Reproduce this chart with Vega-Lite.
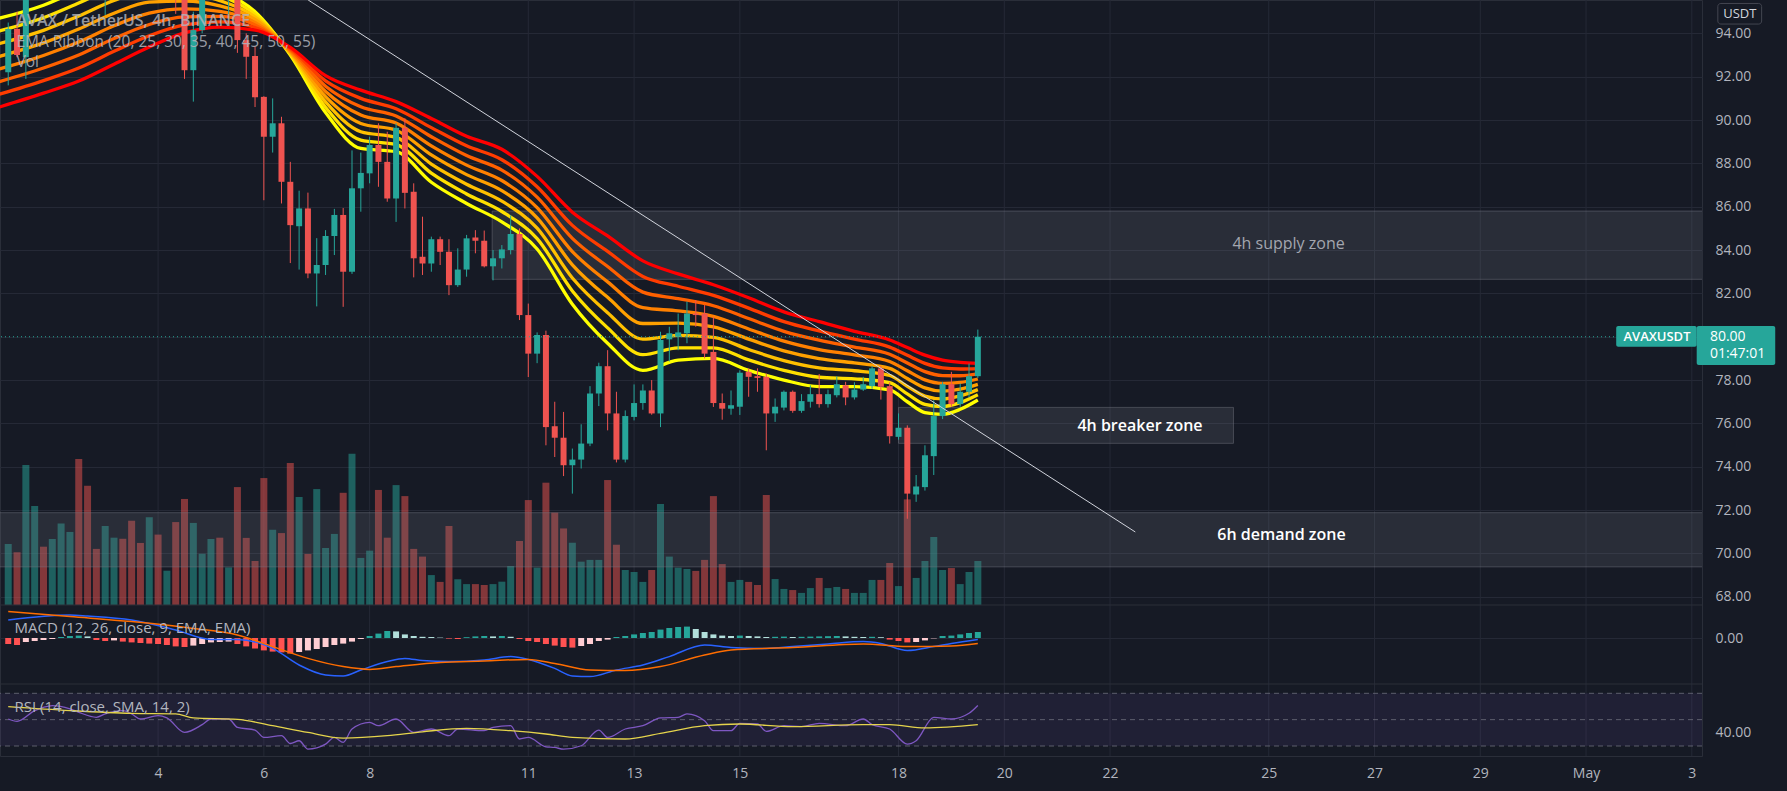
{
"$schema": "https://vega.github.io/schema/vega-lite/v6.json",
"width": 1702,
"height": 756,
"autosize": {"type": "none"},
"padding": {"left": 0, "top": 0, "right": 85, "bottom": 35},
"background": "#161a25",
"config": {"view": {"stroke": "#2a2e39", "strokeWidth": 1}, "font": "Open Sans"},
"resolve": {"scale": {"y": "independent", "color": "independent"}, "axis": {"x": "independent"}},
"datasets": {
"days": [
{"d":"2022-04-04T00:00Z"},{"d":"2022-04-06T00:00Z"},{"d":"2022-04-08T00:00Z"},{"d":"2022-04-11T00:00Z"},
{"d":"2022-04-13T00:00Z"},{"d":"2022-04-15T00:00Z"},{"d":"2022-04-18T00:00Z"},{"d":"2022-04-20T00:00Z"},
{"d":"2022-04-22T00:00Z"},{"d":"2022-04-25T00:00Z"},{"d":"2022-04-27T00:00Z"},{"d":"2022-04-29T00:00Z"},
{"d":"2022-05-01T00:00Z"},{"d":"2022-05-03T00:00Z"}
],
"candles": [
{"t":"2022-04-01T04:00Z","o":92.2,"h":94.5,"l":91.6,"c":94.2,"v":27.7,"m":-0.30},
{"t":"2022-04-01T08:00Z","o":94.2,"h":95.0,"l":92.9,"c":93.0,"v":24,"m":-0.35},
{"t":"2022-04-01T12:00Z","o":92.9,"h":96.8,"l":91.9,"c":96.2,"v":63.6,"m":-0.20},
{"t":"2022-04-01T16:00Z","o":96.2,"h":97.9,"l":95.9,"c":97.4,"v":45,"m":-0.15},
{"t":"2022-04-01T20:00Z","o":97.4,"h":97.8,"l":96.3,"c":96.8,"v":26.5,"m":-0.10},
{"t":"2022-04-02T00:00Z","o":96.8,"h":98.1,"l":96.5,"c":97.6,"v":30,"m":-0.05},
{"t":"2022-04-02T04:00Z","o":97.6,"h":98.8,"l":97.3,"c":98.4,"v":37.1,"m":0.05},
{"t":"2022-04-02T08:00Z","o":98.4,"h":99.3,"l":98.0,"c":98.9,"v":33.2,"m":0.10},
{"t":"2022-04-02T12:00Z","o":98.9,"h":99.4,"l":96.8,"c":97.2,"v":66.4,"m":0.12},
{"t":"2022-04-02T16:00Z","o":97.2,"h":97.6,"l":95.8,"c":96.1,"v":54.2,"m":0.08},
{"t":"2022-04-02T20:00Z","o":96.1,"h":96.6,"l":95.6,"c":95.9,"v":25.5,"m":-0.10},
{"t":"2022-04-03T00:00Z","o":95.9,"h":97.3,"l":94.85,"c":96.9,"v":35.9,"m":-0.15},
{"t":"2022-04-03T04:00Z","o":96.9,"h":98.1,"l":96.5,"c":97.7,"v":30.6,"m":-0.12},
{"t":"2022-04-03T08:00Z","o":97.7,"h":98.0,"l":96.7,"c":97.1,"v":30.1,"m":-0.18},
{"t":"2022-04-03T12:00Z","o":97.1,"h":97.5,"l":95.9,"c":96.3,"v":38.3,"m":-0.22},
{"t":"2022-04-03T16:00Z","o":96.3,"h":96.7,"l":95.7,"c":96.0,"v":28.2,"m":-0.25},
{"t":"2022-04-03T20:00Z","o":96.0,"h":97.4,"l":95.8,"c":97.0,"v":39.9,"m":-0.28},
{"t":"2022-04-04T00:00Z","o":97.0,"h":97.3,"l":96.2,"c":96.6,"v":32,"m":-0.30},
{"t":"2022-04-04T04:00Z","o":96.6,"h":97.2,"l":96.3,"c":96.9,"v":15.6,"m":-0.35},
{"t":"2022-04-04T08:00Z","o":96.9,"h":97.2,"l":94.9,"c":96.1,"v":37.7,"m":-0.42},
{"t":"2022-04-04T12:00Z","o":96.1,"h":96.4,"l":91.9,"c":92.3,"v":48.2,"m":-0.45},
{"t":"2022-04-04T16:00Z","o":92.3,"h":95.0,"l":90.85,"c":94.15,"v":37.3,"m":-0.38},
{"t":"2022-04-04T20:00Z","o":94.15,"h":96.9,"l":94.0,"c":96.3,"v":23.3,"m":-0.30},
{"t":"2022-04-05T00:00Z","o":96.3,"h":97.4,"l":95.9,"c":96.9,"v":30,"m":-0.22},
{"t":"2022-04-05T04:00Z","o":96.9,"h":97.2,"l":95.9,"c":96.3,"v":30.6,"m":-0.20},
{"t":"2022-04-05T08:00Z","o":96.3,"h":97.1,"l":94.9,"c":96.8,"v":17.1,"m":-0.18},
{"t":"2022-04-05T12:00Z","o":96.8,"h":97.0,"l":93.1,"c":93.69,"v":53.6,"m":-0.30},
{"t":"2022-04-05T16:00Z","o":93.69,"h":94.0,"l":91.9,"c":92.92,"v":30.5,"m":-0.42},
{"t":"2022-04-05T20:00Z","o":92.95,"h":93.4,"l":90.6,"c":91.05,"v":20,"m":-0.52},
{"t":"2022-04-06T00:00Z","o":91.07,"h":91.1,"l":86.3,"c":89.23,"v":57.7,"m":-0.62},
{"t":"2022-04-06T04:00Z","o":89.23,"h":91.0,"l":88.5,"c":89.85,"v":34.2,"m":-0.68},
{"t":"2022-04-06T08:00Z","o":89.85,"h":90.15,"l":86.15,"c":87.15,"v":32.7,"m":-0.72},
{"t":"2022-04-06T12:00Z","o":87.15,"h":88.07,"l":83.4,"c":85.15,"v":64.5,"m":-0.78},
{"t":"2022-04-06T16:00Z","o":85.1,"h":86.74,"l":83.1,"c":85.92,"v":49.1,"m":-0.70},
{"t":"2022-04-06T20:00Z","o":85.92,"h":86.65,"l":82.7,"c":82.92,"v":23.2,"m":-0.62},
{"t":"2022-04-07T00:00Z","o":82.92,"h":84.55,"l":81.4,"c":83.31,"v":52.7,"m":-0.55},
{"t":"2022-04-07T04:00Z","o":83.31,"h":84.92,"l":82.85,"c":84.65,"v":25.9,"m":-0.45},
{"t":"2022-04-07T08:00Z","o":84.65,"h":85.9,"l":83.77,"c":85.62,"v":32.3,"m":-0.35},
{"t":"2022-04-07T12:00Z","o":85.62,"h":85.94,"l":81.38,"c":83.0,"v":51,"m":-0.28},
{"t":"2022-04-07T16:00Z","o":83.0,"h":88.6,"l":82.9,"c":86.85,"v":68.8,"m":-0.18},
{"t":"2022-04-07T20:00Z","o":86.85,"h":88.5,"l":85.77,"c":87.56,"v":21.4,"m":-0.05},
{"t":"2022-04-08T00:00Z","o":87.54,"h":89.23,"l":87.08,"c":88.85,"v":24.7,"m":0.10},
{"t":"2022-04-08T04:00Z","o":88.85,"h":89.85,"l":86.92,"c":88.07,"v":52.3,"m":0.22},
{"t":"2022-04-08T08:00Z","o":88.07,"h":89.46,"l":86.23,"c":86.38,"v":30.6,"m":0.35},
{"t":"2022-04-08T12:00Z","o":86.38,"h":89.85,"l":85.3,"c":89.64,"v":54.5,"m":0.33},
{"t":"2022-04-08T16:00Z","o":89.64,"h":90.08,"l":85.92,"c":86.64,"v":49.5,"m":0.18},
{"t":"2022-04-08T20:00Z","o":86.69,"h":87.08,"l":82.74,"c":83.62,"v":25.5,"m":0.10},
{"t":"2022-04-09T00:00Z","o":83.69,"h":85.54,"l":82.85,"c":83.38,"v":22,"m":0.06},
{"t":"2022-04-09T04:00Z","o":83.38,"h":84.62,"l":83.0,"c":84.5,"v":13.6,"m":0.05},
{"t":"2022-04-09T08:00Z","o":84.5,"h":84.62,"l":83.31,"c":83.92,"v":10.5,"m":0.02},
{"t":"2022-04-09T12:00Z","o":83.92,"h":84.5,"l":81.92,"c":82.38,"v":35.9,"m":-0.03},
{"t":"2022-04-09T16:00Z","o":82.38,"h":84.08,"l":82.3,"c":83.1,"v":11.7,"m":-0.05},
{"t":"2022-04-09T20:00Z","o":83.1,"h":84.7,"l":82.77,"c":84.54,"v":9.5,"m":0.04},
{"t":"2022-04-10T00:00Z","o":84.58,"h":84.92,"l":83.85,"c":84.43,"v":9.5,"m":0.08},
{"t":"2022-04-10T04:00Z","o":84.43,"h":84.9,"l":83.2,"c":83.25,"v":9.1,"m":0.10},
{"t":"2022-04-10T08:00Z","o":83.25,"h":84.0,"l":82.6,"c":83.62,"v":9.5,"m":0.08},
{"t":"2022-04-10T12:00Z","o":83.62,"h":84.23,"l":83.15,"c":84.03,"v":10.6,"m":0.10},
{"t":"2022-04-10T16:00Z","o":84.0,"h":85.6,"l":83.8,"c":84.74,"v":17.7,"m":0.06},
{"t":"2022-04-10T20:00Z","o":84.74,"h":85.0,"l":80.77,"c":81.0,"v":29.1,"m":-0.05},
{"t":"2022-04-11T00:00Z","o":81.0,"h":81.53,"l":78.14,"c":79.22,"v":47.7,"m":-0.15},
{"t":"2022-04-11T04:00Z","o":79.22,"h":80.2,"l":78.78,"c":80.08,"v":17,"m":-0.20},
{"t":"2022-04-11T08:00Z","o":80.08,"h":80.28,"l":74.99,"c":75.83,"v":55.6,"m":-0.30},
{"t":"2022-04-11T12:00Z","o":75.87,"h":77.0,"l":74.45,"c":75.34,"v":42,"m":-0.38},
{"t":"2022-04-11T16:00Z","o":75.34,"h":76.53,"l":73.57,"c":74.07,"v":34.8,"m":-0.45},
{"t":"2022-04-11T20:00Z","o":74.07,"h":74.84,"l":72.76,"c":74.33,"v":28.3,"m":-0.48},
{"t":"2022-04-12T00:00Z","o":74.33,"h":75.96,"l":73.92,"c":75.07,"v":19.7,"m":-0.40},
{"t":"2022-04-12T04:00Z","o":75.07,"h":77.72,"l":74.95,"c":77.38,"v":20.5,"m":-0.30},
{"t":"2022-04-12T08:00Z","o":77.38,"h":78.8,"l":76.8,"c":78.64,"v":20.5,"m":-0.15},
{"t":"2022-04-12T12:00Z","o":78.64,"h":79.38,"l":75.68,"c":76.46,"v":56.8,"m":-0.08},
{"t":"2022-04-12T16:00Z","o":76.46,"h":77.46,"l":74.2,"c":74.33,"v":27.4,"m":0.05},
{"t":"2022-04-12T20:00Z","o":74.33,"h":76.6,"l":74.2,"c":76.34,"v":15.9,"m":0.10},
{"t":"2022-04-13T00:00Z","o":76.3,"h":77.8,"l":76.14,"c":76.94,"v":15,"m":0.18},
{"t":"2022-04-13T04:00Z","o":76.94,"h":77.8,"l":76.63,"c":77.52,"v":10.5,"m":0.25},
{"t":"2022-04-13T08:00Z","o":77.52,"h":78.0,"l":76.4,"c":76.46,"v":15.9,"m":0.30},
{"t":"2022-04-13T12:00Z","o":76.46,"h":80.23,"l":75.83,"c":79.85,"v":45.9,"m":0.42},
{"t":"2022-04-13T16:00Z","o":79.88,"h":80.46,"l":78.86,"c":80.16,"v":22,"m":0.50},
{"t":"2022-04-13T20:00Z","o":80.0,"h":81.07,"l":79.38,"c":80.2,"v":17,"m":0.55},
{"t":"2022-04-14T00:00Z","o":80.16,"h":81.62,"l":79.7,"c":81.07,"v":16.4,"m":0.57},
{"t":"2022-04-14T04:00Z","o":81.07,"h":81.69,"l":80.46,"c":81.0,"v":15.5,"m":0.45},
{"t":"2022-04-14T08:00Z","o":81.07,"h":81.46,"l":79.0,"c":79.22,"v":20.5,"m":0.30},
{"t":"2022-04-14T12:00Z","o":79.3,"h":80.92,"l":76.76,"c":76.94,"v":49.5,"m":0.18},
{"t":"2022-04-14T16:00Z","o":76.94,"h":77.38,"l":76.17,"c":76.68,"v":18.6,"m":0.12},
{"t":"2022-04-14T20:00Z","o":76.68,"h":77.52,"l":76.4,"c":76.84,"v":10.5,"m":0.10},
{"t":"2022-04-15T00:00Z","o":76.77,"h":78.45,"l":76.39,"c":78.34,"v":11.4,"m":0.12},
{"t":"2022-04-15T04:00Z","o":78.38,"h":78.54,"l":77.23,"c":78.15,"v":10.5,"m":0.10},
{"t":"2022-04-15T08:00Z","o":78.18,"h":78.54,"l":77.46,"c":78.1,"v":9.1,"m":0.08},
{"t":"2022-04-15T12:00Z","o":78.15,"h":78.3,"l":74.76,"c":76.46,"v":50,"m":0.05},
{"t":"2022-04-15T16:00Z","o":76.46,"h":77.15,"l":76.07,"c":76.77,"v":11.8,"m":0.06},
{"t":"2022-04-15T20:00Z","o":76.73,"h":77.52,"l":76.6,"c":77.46,"v":7.3,"m":0.07},
{"t":"2022-04-16T00:00Z","o":77.46,"h":77.52,"l":76.49,"c":76.58,"v":6.8,"m":0.05},
{"t":"2022-04-16T04:00Z","o":76.58,"h":77.35,"l":76.49,"c":77.03,"v":5.5,"m":0.06},
{"t":"2022-04-16T08:00Z","o":77.0,"h":77.76,"l":76.73,"c":77.35,"v":7.7,"m":0.07},
{"t":"2022-04-16T12:00Z","o":77.35,"h":78.28,"l":76.73,"c":76.89,"v":12.3,"m":0.08},
{"t":"2022-04-16T16:00Z","o":76.89,"h":77.56,"l":76.73,"c":77.35,"v":7.7,"m":0.09},
{"t":"2022-04-16T20:00Z","o":77.3,"h":78.18,"l":77.2,"c":77.81,"v":8.2,"m":0.10},
{"t":"2022-04-17T00:00Z","o":77.76,"h":77.92,"l":76.84,"c":77.2,"v":7.3,"m":0.08},
{"t":"2022-04-17T04:00Z","o":77.2,"h":77.9,"l":77.1,"c":77.56,"v":5.5,"m":0.06},
{"t":"2022-04-17T08:00Z","o":77.56,"h":78.15,"l":77.5,"c":77.81,"v":5.5,"m":0.05},
{"t":"2022-04-17T12:00Z","o":77.72,"h":78.65,"l":77.6,"c":78.54,"v":11.4,"m":0.06},
{"t":"2022-04-17T16:00Z","o":78.54,"h":78.65,"l":77.1,"c":77.69,"v":11.4,"m":0.04},
{"t":"2022-04-17T20:00Z","o":77.72,"h":77.9,"l":75.07,"c":75.41,"v":19.1,"m":-0.08},
{"t":"2022-04-18T00:00Z","o":75.38,"h":76.46,"l":75.25,"c":75.8,"v":8.6,"m":-0.15},
{"t":"2022-04-18T04:00Z","o":75.8,"h":75.91,"l":71.6,"c":72.76,"v":48,"m":-0.22},
{"t":"2022-04-18T08:00Z","o":72.72,"h":73.62,"l":72.38,"c":73.09,"v":12.3,"m":-0.20},
{"t":"2022-04-18T12:00Z","o":73.06,"h":74.99,"l":72.9,"c":74.53,"v":20,"m":-0.12},
{"t":"2022-04-18T16:00Z","o":74.49,"h":77.07,"l":73.62,"c":76.34,"v":30.9,"m":-0.02},
{"t":"2022-04-18T20:00Z","o":76.34,"h":77.92,"l":76.2,"c":77.81,"v":15.9,"m":0.10},
{"t":"2022-04-19T00:00Z","o":77.81,"h":78.38,"l":76.77,"c":76.89,"v":16.8,"m":0.12},
{"t":"2022-04-19T04:00Z","o":76.89,"h":77.84,"l":76.77,"c":77.46,"v":9.5,"m":0.18},
{"t":"2022-04-19T08:00Z","o":77.46,"h":78.76,"l":77.2,"c":78.18,"v":15,"m":0.25},
{"t":"2022-04-19T12:00Z","o":78.18,"h":80.33,"l":78.1,"c":80.0,"v":20,"m":0.30}
],
"ribbon": [
{"t":"2022-04-01T00:00Z","e20":94.7,"e25":94.11,"e30":93.53,"e35":92.94,"e40":92.36,"e45":91.77,"e50":91.19,"e55":90.6},
{"t":"2022-04-01T20:00Z","e20":95.3,"e25":94.72,"e30":94.14,"e35":93.56,"e40":92.98,"e45":92.4,"e50":91.82,"e55":91.24},
{"t":"2022-04-02T12:00Z","e20":96.0,"e25":95.4,"e30":94.8,"e35":94.2,"e40":93.6,"e45":93.0,"e50":92.4,"e55":91.8},
{"t":"2022-04-03T04:00Z","e20":96.7,"e25":96.11,"e30":95.52,"e35":94.93,"e40":94.35,"e45":93.76,"e50":93.17,"e55":92.58},
{"t":"2022-04-03T20:00Z","e20":97.0,"e25":96.48,"e30":95.96,"e35":95.44,"e40":94.93,"e45":94.41,"e50":93.89,"e55":93.37},
{"t":"2022-04-04T12:00Z","e20":96.6,"e25":96.23,"e30":95.86,"e35":95.49,"e40":95.13,"e45":94.76,"e50":94.39,"e55":94.02},
{"t":"2022-04-05T04:00Z","e20":96.0,"e25":95.76,"e30":95.51,"e35":95.27,"e40":95.02,"e45":94.78,"e50":94.53,"e55":94.29},
{"t":"2022-04-05T20:00Z","e20":95.0,"e25":94.88,"e30":94.76,"e35":94.64,"e40":94.51,"e45":94.39,"e50":94.27,"e55":94.15},
{"t":"2022-04-06T12:00Z","e20":93.0,"e25":93.05,"e30":93.1,"e35":93.15,"e40":93.2,"e45":93.25,"e50":93.3,"e55":93.35},
{"t":"2022-04-07T04:00Z","e20":90.35,"e25":90.59,"e30":90.84,"e35":91.08,"e40":91.32,"e45":91.56,"e50":91.81,"e55":92.05},
{"t":"2022-04-07T20:00Z","e20":88.69,"e25":89.07,"e30":89.46,"e35":89.84,"e40":90.23,"e45":90.61,"e50":91.0,"e55":91.38},
{"t":"2022-04-08T12:00Z","e20":88.54,"e25":88.87,"e30":89.2,"e35":89.53,"e40":89.86,"e45":90.19,"e50":90.52,"e55":90.85},
{"t":"2022-04-09T04:00Z","e20":87.13,"e25":87.55,"e30":87.97,"e35":88.39,"e40":88.81,"e45":89.23,"e50":89.65,"e55":90.07},
{"t":"2022-04-09T20:00Z","e20":86.15,"e25":86.59,"e30":87.04,"e35":87.48,"e40":87.92,"e45":88.36,"e50":88.81,"e55":89.25},
{"t":"2022-04-10T12:00Z","e20":85.3,"e25":85.78,"e30":86.26,"e35":86.74,"e40":87.21,"e45":87.69,"e50":88.17,"e55":88.65},
{"t":"2022-04-11T04:00Z","e20":84.05,"e25":84.53,"e30":85.01,"e35":85.49,"e40":85.96,"e45":86.44,"e50":86.92,"e55":87.4},
{"t":"2022-04-11T20:00Z","e20":81.5,"e25":82.11,"e30":82.71,"e35":83.32,"e40":83.93,"e45":84.54,"e50":85.14,"e55":85.75},
{"t":"2022-04-12T12:00Z","e20":79.7,"e25":80.41,"e30":81.11,"e35":81.82,"e40":82.53,"e45":83.24,"e50":83.94,"e55":84.65},
{"t":"2022-04-13T04:00Z","e20":78.45,"e25":79.17,"e30":79.89,"e35":80.61,"e40":81.34,"e45":82.06,"e50":82.78,"e55":83.5},
{"t":"2022-04-13T20:00Z","e20":78.92,"e25":79.49,"e30":80.06,"e35":80.63,"e40":81.19,"e45":81.76,"e50":82.33,"e55":82.9},
{"t":"2022-04-14T12:00Z","e20":79.0,"e25":79.49,"e30":79.97,"e35":80.46,"e40":80.94,"e45":81.43,"e50":81.91,"e55":82.4},
{"t":"2022-04-15T04:00Z","e20":78.45,"e25":78.93,"e30":79.41,"e35":79.89,"e40":80.36,"e45":80.84,"e50":81.32,"e55":81.8},
{"t":"2022-04-15T20:00Z","e20":78.0,"e25":78.45,"e30":78.9,"e35":79.35,"e40":79.8,"e45":80.25,"e50":80.7,"e55":81.15},
{"t":"2022-04-16T12:00Z","e20":77.7,"e25":78.13,"e30":78.56,"e35":78.99,"e40":79.41,"e45":79.84,"e50":80.27,"e55":80.7},
{"t":"2022-04-17T04:00Z","e20":77.7,"e25":78.06,"e30":78.43,"e35":78.79,"e40":79.16,"e45":79.52,"e50":79.89,"e55":80.25},
{"t":"2022-04-17T20:00Z","e20":77.55,"e25":77.88,"e30":78.21,"e35":78.54,"e40":78.86,"e45":79.19,"e50":79.52,"e55":79.85},
{"t":"2022-04-18T04:00Z","e20":77.0,"e25":77.36,"e30":77.71,"e35":78.07,"e40":78.43,"e45":78.79,"e50":79.14,"e55":79.5},
{"t":"2022-04-18T12:00Z","e20":76.5,"e25":76.88,"e30":77.26,"e35":77.64,"e40":78.01,"e45":78.39,"e50":78.77,"e55":79.15},
{"t":"2022-04-18T20:00Z","e20":76.42,"e25":76.78,"e30":77.13,"e35":77.49,"e40":77.85,"e45":78.21,"e50":78.56,"e55":78.92},
{"t":"2022-04-19T04:00Z","e20":76.65,"e25":76.96,"e30":77.27,"e35":77.58,"e40":77.89,"e45":78.2,"e50":78.51,"e55":78.82},
{"t":"2022-04-19T12:00Z","e20":77.08,"e25":77.32,"e30":77.56,"e35":77.8,"e40":78.05,"e45":78.29,"e50":78.53,"e55":78.77}
],
"macdLines": [
{"t":"2022-04-01T04:00Z","s":"macd","v":0.9},
{"t":"2022-04-02T08:00Z","s":"macd","v":1.15},
{"t":"2022-04-02T16:00Z","s":"macd","v":1.1},
{"t":"2022-04-03T12:00Z","s":"macd","v":0.9},
{"t":"2022-04-04T08:00Z","s":"macd","v":0.4},
{"t":"2022-04-05T00:00Z","s":"macd","v":-0.07},
{"t":"2022-04-05T12:00Z","s":"macd","v":-0.07},
{"t":"2022-04-06T04:00Z","s":"macd","v":-0.52},
{"t":"2022-04-06T16:00Z","s":"macd","v":-1.35},
{"t":"2022-04-07T04:00Z","s":"macd","v":-1.85},
{"t":"2022-04-07T12:00Z","s":"macd","v":-1.9},
{"t":"2022-04-07T20:00Z","s":"macd","v":-1.6},
{"t":"2022-04-08T08:00Z","s":"macd","v":-1.18},
{"t":"2022-04-08T16:00Z","s":"macd","v":-1.02},
{"t":"2022-04-09T00:00Z","s":"macd","v":-1.13},
{"t":"2022-04-09T12:00Z","s":"macd","v":-1.18},
{"t":"2022-04-10T04:00Z","s":"macd","v":-1.1},
{"t":"2022-04-10T16:00Z","s":"macd","v":-0.93},
{"t":"2022-04-11T00:00Z","s":"macd","v":-1.07},
{"t":"2022-04-11T12:00Z","s":"macd","v":-1.52},
{"t":"2022-04-11T20:00Z","s":"macd","v":-1.9},
{"t":"2022-04-12T04:00Z","s":"macd","v":-1.93},
{"t":"2022-04-12T16:00Z","s":"macd","v":-1.6},
{"t":"2022-04-13T04:00Z","s":"macd","v":-1.35},
{"t":"2022-04-13T16:00Z","s":"macd","v":-0.93},
{"t":"2022-04-14T08:00Z","s":"macd","v":-0.35},
{"t":"2022-04-14T20:00Z","s":"macd","v":-0.47},
{"t":"2022-04-15T12:00Z","s":"macd","v":-0.52},
{"t":"2022-04-16T00:00Z","s":"macd","v":-0.43},
{"t":"2022-04-16T16:00Z","s":"macd","v":-0.3},
{"t":"2022-04-17T08:00Z","s":"macd","v":-0.18},
{"t":"2022-04-17T16:00Z","s":"macd","v":-0.27},
{"t":"2022-04-18T04:00Z","s":"macd","v":-0.63},
{"t":"2022-04-18T16:00Z","s":"macd","v":-0.43},
{"t":"2022-04-19T00:00Z","s":"macd","v":-0.27},
{"t":"2022-04-19T12:00Z","s":"macd","v":-0.07},
{"t":"2022-04-01T04:00Z","s":"signal","v":1.32},
{"t":"2022-04-02T08:00Z","s":"signal","v":1.07},
{"t":"2022-04-03T12:00Z","s":"signal","v":0.82},
{"t":"2022-04-04T16:00Z","s":"signal","v":0.48},
{"t":"2022-04-05T12:00Z","s":"signal","v":0.15},
{"t":"2022-04-06T04:00Z","s":"signal","v":-0.43},
{"t":"2022-04-06T20:00Z","s":"signal","v":-1.02},
{"t":"2022-04-07T12:00Z","s":"signal","v":-1.43},
{"t":"2022-04-08T00:00Z","s":"signal","v":-1.57},
{"t":"2022-04-08T12:00Z","s":"signal","v":-1.43},
{"t":"2022-04-09T08:00Z","s":"signal","v":-1.22},
{"t":"2022-04-10T04:00Z","s":"signal","v":-1.15},
{"t":"2022-04-11T00:00Z","s":"signal","v":-1.07},
{"t":"2022-04-11T12:00Z","s":"signal","v":-1.27},
{"t":"2022-04-12T04:00Z","s":"signal","v":-1.6},
{"t":"2022-04-12T20:00Z","s":"signal","v":-1.63},
{"t":"2022-04-13T12:00Z","s":"signal","v":-1.43},
{"t":"2022-04-14T08:00Z","s":"signal","v":-0.85},
{"t":"2022-04-14T20:00Z","s":"signal","v":-0.6},
{"t":"2022-04-16T00:00Z","s":"signal","v":-0.48},
{"t":"2022-04-17T08:00Z","s":"signal","v":-0.3},
{"t":"2022-04-18T04:00Z","s":"signal","v":-0.43},
{"t":"2022-04-19T00:00Z","s":"signal","v":-0.4},
{"t":"2022-04-19T12:00Z","s":"signal","v":-0.27}
],
"rsi": [
{"t":"2022-04-01T04:00Z","s":"rsi","v":50.5},
{"t":"2022-04-01T08:00Z","s":"rsi","v":48.7},
{"t":"2022-04-01T16:00Z","s":"rsi","v":56.9},
{"t":"2022-04-01T20:00Z","s":"rsi","v":59.4},
{"t":"2022-04-02T00:00Z","s":"rsi","v":60.7},
{"t":"2022-04-02T08:00Z","s":"rsi","v":58.2},
{"t":"2022-04-02T12:00Z","s":"rsi","v":55.6},
{"t":"2022-04-02T20:00Z","s":"rsi","v":51.8},
{"t":"2022-04-03T00:00Z","s":"rsi","v":54.4},
{"t":"2022-04-03T08:00Z","s":"rsi","v":56.9},
{"t":"2022-04-03T12:00Z","s":"rsi","v":54.4},
{"t":"2022-04-03T16:00Z","s":"rsi","v":50.5},
{"t":"2022-04-04T00:00Z","s":"rsi","v":53},
{"t":"2022-04-04T04:00Z","s":"rsi","v":51.3},
{"t":"2022-04-04T12:00Z","s":"rsi","v":40.3},
{"t":"2022-04-04T20:00Z","s":"rsi","v":46.2},
{"t":"2022-04-05T00:00Z","s":"rsi","v":50.5},
{"t":"2022-04-05T08:00Z","s":"rsi","v":50.5},
{"t":"2022-04-05T12:00Z","s":"rsi","v":44.1},
{"t":"2022-04-05T20:00Z","s":"rsi","v":42.1},
{"t":"2022-04-06T00:00Z","s":"rsi","v":36.5},
{"t":"2022-04-06T08:00Z","s":"rsi","v":37.8},
{"t":"2022-04-06T12:00Z","s":"rsi","v":31.9},
{"t":"2022-04-06T16:00Z","s":"rsi","v":34},
{"t":"2022-04-06T20:00Z","s":"rsi","v":27.6},
{"t":"2022-04-07T04:00Z","s":"rsi","v":31.4},
{"t":"2022-04-07T08:00Z","s":"rsi","v":36.5},
{"t":"2022-04-07T12:00Z","s":"rsi","v":32.7},
{"t":"2022-04-07T16:00Z","s":"rsi","v":42.9},
{"t":"2022-04-08T00:00Z","s":"rsi","v":47.9},
{"t":"2022-04-08T04:00Z","s":"rsi","v":45.4},
{"t":"2022-04-08T12:00Z","s":"rsi","v":50.5},
{"t":"2022-04-08T20:00Z","s":"rsi","v":40.3},
{"t":"2022-04-09T04:00Z","s":"rsi","v":42.9},
{"t":"2022-04-09T12:00Z","s":"rsi","v":37.8},
{"t":"2022-04-09T16:00Z","s":"rsi","v":42.9},
{"t":"2022-04-10T04:00Z","s":"rsi","v":41.6},
{"t":"2022-04-10T08:00Z","s":"rsi","v":44.1},
{"t":"2022-04-10T16:00Z","s":"rsi","v":45.4},
{"t":"2022-04-10T20:00Z","s":"rsi","v":35.3},
{"t":"2022-04-11T00:00Z","s":"rsi","v":36.5},
{"t":"2022-04-11T08:00Z","s":"rsi","v":29.4},
{"t":"2022-04-11T12:00Z","s":"rsi","v":28.9},
{"t":"2022-04-11T16:00Z","s":"rsi","v":27.6},
{"t":"2022-04-12T00:00Z","s":"rsi","v":30.2},
{"t":"2022-04-12T08:00Z","s":"rsi","v":42.1},
{"t":"2022-04-12T12:00Z","s":"rsi","v":36.5},
{"t":"2022-04-12T20:00Z","s":"rsi","v":42.9},
{"t":"2022-04-13T04:00Z","s":"rsi","v":45.4},
{"t":"2022-04-13T12:00Z","s":"rsi","v":51.3},
{"t":"2022-04-13T20:00Z","s":"rsi","v":51.8},
{"t":"2022-04-14T00:00Z","s":"rsi","v":54.4},
{"t":"2022-04-14T08:00Z","s":"rsi","v":49.2},
{"t":"2022-04-14T12:00Z","s":"rsi","v":41.6},
{"t":"2022-04-14T20:00Z","s":"rsi","v":41.6},
{"t":"2022-04-15T00:00Z","s":"rsi","v":47.2},
{"t":"2022-04-15T08:00Z","s":"rsi","v":46.7},
{"t":"2022-04-15T12:00Z","s":"rsi","v":41.1},
{"t":"2022-04-15T20:00Z","s":"rsi","v":45.4},
{"t":"2022-04-16T04:00Z","s":"rsi","v":44.7},
{"t":"2022-04-16T12:00Z","s":"rsi","v":47.2},
{"t":"2022-04-17T00:00Z","s":"rsi","v":45.4},
{"t":"2022-04-17T08:00Z","s":"rsi","v":50.5},
{"t":"2022-04-17T12:00Z","s":"rsi","v":46.2},
{"t":"2022-04-17T20:00Z","s":"rsi","v":42.9},
{"t":"2022-04-18T04:00Z","s":"rsi","v":31.4},
{"t":"2022-04-18T08:00Z","s":"rsi","v":34},
{"t":"2022-04-18T16:00Z","s":"rsi","v":51.8},
{"t":"2022-04-19T00:00Z","s":"rsi","v":50.5},
{"t":"2022-04-19T08:00Z","s":"rsi","v":54.8},
{"t":"2022-04-19T12:00Z","s":"rsi","v":60.7},
{"t":"2022-04-01T04:00Z","s":"ma","v":59.9},
{"t":"2022-04-02T08:00Z","s":"ma","v":56.9},
{"t":"2022-04-03T12:00Z","s":"ma","v":54.8},
{"t":"2022-04-04T08:00Z","s":"ma","v":54.4},
{"t":"2022-04-04T16:00Z","s":"ma","v":51.3},
{"t":"2022-04-05T12:00Z","s":"ma","v":50.2},
{"t":"2022-04-06T04:00Z","s":"ma","v":45.4},
{"t":"2022-04-06T20:00Z","s":"ma","v":40.3},
{"t":"2022-04-07T12:00Z","s":"ma","v":36},
{"t":"2022-04-08T08:00Z","s":"ma","v":37.8},
{"t":"2022-04-09T00:00Z","s":"ma","v":40.8},
{"t":"2022-04-09T20:00Z","s":"ma","v":43.4},
{"t":"2022-04-10T16:00Z","s":"ma","v":41.6},
{"t":"2022-04-11T08:00Z","s":"ma","v":39.1},
{"t":"2022-04-11T20:00Z","s":"ma","v":36.5},
{"t":"2022-04-12T20:00Z","s":"ma","v":35.3},
{"t":"2022-04-13T12:00Z","s":"ma","v":39.6},
{"t":"2022-04-14T08:00Z","s":"ma","v":45.4},
{"t":"2022-04-15T00:00Z","s":"ma","v":46.7},
{"t":"2022-04-16T00:00Z","s":"ma","v":44.7},
{"t":"2022-04-17T08:00Z","s":"ma","v":46.2},
{"t":"2022-04-17T20:00Z","s":"ma","v":46.2},
{"t":"2022-04-18T12:00Z","s":"ma","v":43.7},
{"t":"2022-04-19T12:00Z","s":"ma","v":46.2}
],
"zones": [
{"kind":"supply","t":"2022-04-10T07:36Z","t2":"2022-05-05T00:00Z","p":85.8,"p2":82.65},
{"kind":"breaker","t":"2022-04-18T00:00Z","t2":"2022-04-24T08:00Z","p":76.74,"p2":75.08},
{"kind":"demand","t":"2022-03-31T00:00Z","t2":"2022-05-05T00:00Z","p":71.88,"p2":69.38}
],
"zoneLabels": [
{"kind":"supply","label":"4h supply zone","t":"2022-04-25T09:00Z","p":84.3},
{"kind":"breaker","label":"4h breaker zone","t":"2022-04-22T13:35Z","p":75.9},
{"kind":"demand","label":"6h demand zone","t":"2022-04-25T05:47Z","p":70.85}
],
"trend": [
{"t":"2022-04-06T20:07Z","p":95.54},
{"t":"2022-04-22T11:27Z","p":70.99}
],
"last": [
{"symbol":"AVAXUSDT","p":80.0,"timer":"01:47:01","currency":"USDT"}
],
"rsiLevels": [{"lv":70},{"lv":50},{"lv":30}]
},
"layer": [
{
"data": {"name": "days"},
"mark": {"type": "rule", "color": "#252936", "strokeWidth": 1},
"encoding": {
"x": {"field": "d", "type": "temporal", "scale": {"type": "utc", "nice": false, "domain": [{"year": 2022, "month": 4, "date": 1, "hours": 2, "minutes": 32, "utc": true}, {"year": 2022, "month": 5, "date": 3, "hours": 2, "minutes": 21, "utc": true}]},
"axis": {"orient": "bottom", "title": null, "values": [
{"year": 2022, "month": 4, "date": 4, "utc": true},
{"year": 2022, "month": 4, "date": 6, "utc": true},
{"year": 2022, "month": 4, "date": 8, "utc": true},
{"year": 2022, "month": 4, "date": 11, "utc": true},
{"year": 2022, "month": 4, "date": 13, "utc": true},
{"year": 2022, "month": 4, "date": 15, "utc": true},
{"year": 2022, "month": 4, "date": 18, "utc": true},
{"year": 2022, "month": 4, "date": 20, "utc": true},
{"year": 2022, "month": 4, "date": 22, "utc": true},
{"year": 2022, "month": 4, "date": 25, "utc": true},
{"year": 2022, "month": 4, "date": 27, "utc": true},
{"year": 2022, "month": 4, "date": 29, "utc": true},
{"year": 2022, "month": 5, "date": 1, "utc": true},
{"year": 2022, "month": 5, "date": 3, "utc": true}],
"labelExpr": "utcdate(datum.value) == 1 ? 'May' : utcFormat(datum.value, '%-d')",
"grid": false, "domain": false, "ticks": false, "labelPadding": 10, "labelFontSize": 14, "labelColor": "#b2b5be", "labelOverlap": false, "labelFlush": false}}
}
},
{
"data": {"name": "candles"},
"mark": {"type": "bar", "width": 7, "opacity": 0.5},
"encoding": {
"x": {"field": "t", "type": "temporal", "axis": null, "scale": {"type": "utc", "nice": false, "domain": [{"year": 2022, "month": 4, "date": 1, "hours": 2, "minutes": 32, "utc": true}, {"year": 2022, "month": 5, "date": 3, "hours": 2, "minutes": 21, "utc": true}]}},
"y": {"field": "v", "type": "quantitative", "axis": null, "scale": {"domain": [0, 100], "range": [605, 385], "zero": false, "nice": false}},
"y2": {"datum": 0},
"color": {"condition": {"test": "datum.c >= datum.o", "value": "#26a69a"}, "value": "#ef5350"}
}
},
{
"data": {"name": "zones"},
"mark": {"type": "rect", "fill": "#787b86", "fillOpacity": 0.2, "stroke": "#787b86", "strokeOpacity": 0.45, "strokeWidth": 1, "clip": true},
"encoding": {
"x": {"field": "t", "type": "temporal", "axis": null, "scale": {"type": "utc", "nice": false, "domain": [{"year": 2022, "month": 4, "date": 1, "hours": 2, "minutes": 32, "utc": true}, {"year": 2022, "month": 5, "date": 3, "hours": 2, "minutes": 21, "utc": true}]}},
"x2": {"field": "t2"},
"y": {"field": "p", "type": "quantitative", "axis": null, "scale": {"domain": [67.62, 95.54], "range": [605, 0], "zero": false, "nice": false}},
"y2": {"field": "p2"}
}
},
{
"data": {"name": "ribbon"},
"transform": [{"fold": ["e20", "e25", "e30", "e35", "e40", "e45", "e50", "e55"], "as": ["ema", "val"]}],
"mark": {"type": "line", "strokeWidth": 3.3, "interpolate": "monotone", "clip": true},
"encoding": {
"x": {"field": "t", "type": "temporal", "axis": null, "scale": {"type": "utc", "nice": false, "domain": [{"year": 2022, "month": 4, "date": 1, "hours": 2, "minutes": 32, "utc": true}, {"year": 2022, "month": 5, "date": 3, "hours": 2, "minutes": 21, "utc": true}]}},
"y": {"field": "val", "type": "quantitative", "axis": null, "scale": {"domain": [67.62, 95.54], "range": [605, 0], "zero": false, "nice": false}},
"color": {"field": "ema", "type": "nominal", "legend": null, "scale": {"domain": ["e20", "e25", "e30", "e35", "e40", "e45", "e50", "e55"], "range": ["#ffff00", "#ffe000", "#ffc000", "#ffa000", "#ff8000", "#ff6000", "#ff3c00", "#ff0000"]}}
}
},
{
"data": {"name": "candles"},
"mark": {"type": "rule", "strokeWidth": 1, "clip": true},
"encoding": {
"x": {"field": "t", "type": "temporal", "axis": null, "scale": {"type": "utc", "nice": false, "domain": [{"year": 2022, "month": 4, "date": 1, "hours": 2, "minutes": 32, "utc": true}, {"year": 2022, "month": 5, "date": 3, "hours": 2, "minutes": 21, "utc": true}]}},
"y": {"field": "l", "type": "quantitative", "axis": null, "scale": {"domain": [67.62, 95.54], "range": [605, 0], "zero": false, "nice": false}},
"y2": {"field": "h"},
"color": {"condition": {"test": "datum.c >= datum.o", "value": "#26a69a"}, "value": "#ef5350"}
}
},
{
"data": {"name": "candles"},
"mark": {"type": "bar", "width": 6, "clip": true},
"encoding": {
"x": {"field": "t", "type": "temporal", "axis": null, "scale": {"type": "utc", "nice": false, "domain": [{"year": 2022, "month": 4, "date": 1, "hours": 2, "minutes": 32, "utc": true}, {"year": 2022, "month": 5, "date": 3, "hours": 2, "minutes": 21, "utc": true}]}},
"y": {"field": "o", "type": "quantitative", "scale": {"domain": [67.62, 95.54], "range": [605, 0], "zero": false, "nice": false},
"axis": {"orient": "right", "title": null, "values": [68, 70, 72, 74, 76, 78, 80, 82, 84, 86, 88, 90, 92, 94], "labelExpr": "datum.value == 80 ? '' : format(datum.value, '.2f')", "grid": true, "gridColor": "#252936", "domain": false, "ticks": false, "labelPadding": 13, "labelFontSize": 14, "labelColor": "#b2b5be", "labelAlign": "left"}},
"y2": {"field": "c"},
"color": {"condition": {"test": "datum.c >= datum.o", "value": "#26a69a"}, "value": "#ef5350"}
}
},
{
"data": {"name": "trend"},
"mark": {"type": "line", "color": "#d1d4dc", "strokeWidth": 1, "clip": true},
"encoding": {
"x": {"field": "t", "type": "temporal", "axis": null, "scale": {"type": "utc", "nice": false, "domain": [{"year": 2022, "month": 4, "date": 1, "hours": 2, "minutes": 32, "utc": true}, {"year": 2022, "month": 5, "date": 3, "hours": 2, "minutes": 21, "utc": true}]}},
"y": {"field": "p", "type": "quantitative", "axis": null, "scale": {"domain": [67.62, 95.54], "range": [605, 0], "zero": false, "nice": false}}
}
},
{
"data": {"name": "last"},
"mark": {"type": "rule", "color": "#26a69a", "strokeWidth": 1, "strokeDash": [1, 3]},
"encoding": {
"y": {"field": "p", "type": "quantitative", "axis": null, "scale": {"domain": [67.62, 95.54], "range": [605, 0], "zero": false, "nice": false}}
}
},
{
"data": {"name": "zoneLabels"},
"transform": [{"filter": "datum.kind == 'supply'"}],
"mark": {"type": "text", "fontSize": 16, "color": "#a3a6af", "align": "center", "baseline": "middle"},
"encoding": {
"x": {"field": "t", "type": "temporal", "axis": null, "scale": {"type": "utc", "nice": false, "domain": [{"year": 2022, "month": 4, "date": 1, "hours": 2, "minutes": 32, "utc": true}, {"year": 2022, "month": 5, "date": 3, "hours": 2, "minutes": 21, "utc": true}]}},
"y": {"field": "p", "type": "quantitative", "axis": null, "scale": {"domain": [67.62, 95.54], "range": [605, 0], "zero": false, "nice": false}},
"text": {"field": "label"}
}
},
{
"data": {"name": "zoneLabels"},
"transform": [{"filter": "datum.kind != 'supply'"}],
"mark": {"type": "text", "fontSize": 16, "fontWeight": 600, "color": "#ffffff", "align": "center", "baseline": "middle"},
"encoding": {
"x": {"field": "t", "type": "temporal", "axis": null, "scale": {"type": "utc", "nice": false, "domain": [{"year": 2022, "month": 4, "date": 1, "hours": 2, "minutes": 32, "utc": true}, {"year": 2022, "month": 5, "date": 3, "hours": 2, "minutes": 21, "utc": true}]}},
"y": {"field": "p", "type": "quantitative", "axis": null, "scale": {"domain": [67.62, 95.54], "range": [605, 0], "zero": false, "nice": false}},
"text": {"field": "label"}
}
},
{
"data": {"values": [{}]},
"mark": {"type": "text", "text": "AVAX / TetherUS, 4h, BINANCE", "fontSize": 16, "fontWeight": 600, "color": "#b2b5be", "opacity": 0.8, "align": "left", "baseline": "middle"},
"encoding": {
"x": {"datum": {"year": 2022, "month": 4, "date": 1, "hours": 7, "minutes": 43, "utc": true}, "type": "temporal", "axis": null, "scale": {"type": "utc", "nice": false, "domain": [{"year": 2022, "month": 4, "date": 1, "hours": 2, "minutes": 32, "utc": true}, {"year": 2022, "month": 5, "date": 3, "hours": 2, "minutes": 21, "utc": true}]}},
"y": {"datum": 94.58, "type": "quantitative", "axis": null, "scale": {"domain": [67.62, 95.54], "range": [605, 0], "zero": false, "nice": false}}
}
},
{
"data": {"values": [{}]},
"mark": {"type": "text", "text": "EMA Ribbon (20, 25, 30, 35, 40, 45, 50, 55)", "fontSize": 15.5, "color": "#b2b5be", "opacity": 0.85, "align": "left", "baseline": "middle"},
"encoding": {
"x": {"datum": {"year": 2022, "month": 4, "date": 1, "hours": 7, "minutes": 43, "utc": true}, "type": "temporal", "axis": null, "scale": {"type": "utc", "nice": false, "domain": [{"year": 2022, "month": 4, "date": 1, "hours": 2, "minutes": 32, "utc": true}, {"year": 2022, "month": 5, "date": 3, "hours": 2, "minutes": 21, "utc": true}]}},
"y": {"datum": 93.61, "type": "quantitative", "axis": null, "scale": {"domain": [67.62, 95.54], "range": [605, 0], "zero": false, "nice": false}}
}
},
{
"data": {"values": [{}]},
"mark": {"type": "text", "text": "Vol", "fontSize": 15.5, "color": "#b2b5be", "opacity": 0.85, "align": "left", "baseline": "middle"},
"encoding": {
"x": {"datum": {"year": 2022, "month": 4, "date": 1, "hours": 7, "minutes": 43, "utc": true}, "type": "temporal", "axis": null, "scale": {"type": "utc", "nice": false, "domain": [{"year": 2022, "month": 4, "date": 1, "hours": 2, "minutes": 32, "utc": true}, {"year": 2022, "month": 5, "date": 3, "hours": 2, "minutes": 21, "utc": true}]}},
"y": {"datum": 92.69, "type": "quantitative", "axis": null, "scale": {"domain": [67.62, 95.54], "range": [605, 0], "zero": false, "nice": false}}
}
},
{
"data": {"values": [{}]},
"mark": {"type": "rect", "fill": "#26a69a", "cornerRadius": 2},
"encoding": {
"x": {"datum": {"year": 2022, "month": 5, "date": 1, "hours": 13, "minutes": 41, "utc": true}, "type": "temporal", "axis": null, "scale": {"type": "utc", "nice": false, "domain": [{"year": 2022, "month": 4, "date": 1, "hours": 2, "minutes": 32, "utc": true}, {"year": 2022, "month": 5, "date": 3, "hours": 2, "minutes": 21, "utc": true}]}},
"x2": {"datum": {"year": 2022, "month": 5, "date": 3, "hours": 2, "minutes": 13, "utc": true}},
"y": {"datum": 80.49, "type": "quantitative", "axis": null, "scale": {"domain": [67.62, 95.54], "range": [605, 0], "zero": false, "nice": false}},
"y2": {"datum": 79.54}
}
},
{
"data": {"values": [{}]},
"mark": {"type": "rect", "fill": "#26a69a", "cornerRadius": 2},
"encoding": {
"x": {"datum": {"year": 2022, "month": 5, "date": 3, "hours": 2, "minutes": 13, "utc": true}, "type": "temporal", "axis": null, "scale": {"type": "utc", "nice": false, "domain": [{"year": 2022, "month": 4, "date": 1, "hours": 2, "minutes": 32, "utc": true}, {"year": 2022, "month": 5, "date": 3, "hours": 2, "minutes": 21, "utc": true}]}},
"x2": {"datum": {"year": 2022, "month": 5, "date": 4, "hours": 13, "minutes": 51, "utc": true}},
"y": {"datum": 80.49, "type": "quantitative", "axis": null, "scale": {"domain": [67.62, 95.54], "range": [605, 0], "zero": false, "nice": false}},
"y2": {"datum": 78.69}
}
},
{
"data": {"values": [{}]},
"mark": {"type": "rect", "fill": "#161a25", "stroke": "#434651", "strokeWidth": 1, "cornerRadius": 3},
"encoding": {
"x": {"datum": {"year": 2022, "month": 5, "date": 3, "hours": 11, "minutes": 48, "utc": true}, "type": "temporal", "axis": null, "scale": {"type": "utc", "nice": false, "domain": [{"year": 2022, "month": 4, "date": 1, "hours": 2, "minutes": 32, "utc": true}, {"year": 2022, "month": 5, "date": 3, "hours": 2, "minutes": 21, "utc": true}]}},
"x2": {"datum": {"year": 2022, "month": 5, "date": 4, "hours": 7, "minutes": 41, "utc": true}},
"y": {"datum": 95.38, "type": "quantitative", "axis": null, "scale": {"domain": [67.62, 95.54], "range": [605, 0], "zero": false, "nice": false}},
"y2": {"datum": 94.43}
}
},
{
"data": {"name": "last"},
"mark": {"type": "text", "fontSize": 13, "fontWeight": 600, "color": "#ffffff", "align": "left", "baseline": "middle"},
"encoding": {
"x": {"datum": {"year": 2022, "month": 5, "date": 1, "hours": 16, "minutes": 58, "utc": true}, "type": "temporal", "axis": null, "scale": {"type": "utc", "nice": false, "domain": [{"year": 2022, "month": 4, "date": 1, "hours": 2, "minutes": 32, "utc": true}, {"year": 2022, "month": 5, "date": 3, "hours": 2, "minutes": 21, "utc": true}]}},
"y": {"field": "p", "type": "quantitative", "axis": null, "scale": {"domain": [67.62, 95.54], "range": [605, 0], "zero": false, "nice": false}},
"text": {"field": "symbol"}
}
},
{
"data": {"name": "last"},
"mark": {"type": "text", "fontSize": 14, "color": "#ffffff", "align": "left", "baseline": "middle"},
"encoding": {
"x": {"datum": {"year": 2022, "month": 5, "date": 3, "hours": 8, "minutes": 12, "utc": true}, "type": "temporal", "axis": null, "scale": {"type": "utc", "nice": false, "domain": [{"year": 2022, "month": 4, "date": 1, "hours": 2, "minutes": 32, "utc": true}, {"year": 2022, "month": 5, "date": 3, "hours": 2, "minutes": 21, "utc": true}]}},
"y": {"field": "p", "type": "quantitative", "axis": null, "scale": {"domain": [67.62, 95.54], "range": [605, 0], "zero": false, "nice": false}},
"text": {"field": "p", "type": "quantitative", "format": ".2f"}
}
},
{
"data": {"name": "last"},
"mark": {"type": "text", "fontSize": 14, "color": "#ffffff", "align": "left", "baseline": "middle", "dy": 17},
"encoding": {
"x": {"datum": {"year": 2022, "month": 5, "date": 3, "hours": 8, "minutes": 12, "utc": true}, "type": "temporal", "axis": null, "scale": {"type": "utc", "nice": false, "domain": [{"year": 2022, "month": 4, "date": 1, "hours": 2, "minutes": 32, "utc": true}, {"year": 2022, "month": 5, "date": 3, "hours": 2, "minutes": 21, "utc": true}]}},
"y": {"field": "p", "type": "quantitative", "axis": null, "scale": {"domain": [67.62, 95.54], "range": [605, 0], "zero": false, "nice": false}},
"text": {"field": "timer"}
}
},
{
"data": {"name": "last"},
"mark": {"type": "text", "fontSize": 13, "color": "#d1d4dc", "align": "center", "baseline": "middle"},
"encoding": {
"x": {"datum": {"year": 2022, "month": 5, "date": 3, "hours": 21, "minutes": 45, "utc": true}, "type": "temporal", "axis": null, "scale": {"type": "utc", "nice": false, "domain": [{"year": 2022, "month": 4, "date": 1, "hours": 2, "minutes": 32, "utc": true}, {"year": 2022, "month": 5, "date": 3, "hours": 2, "minutes": 21, "utc": true}]}},
"y": {"datum": 94.9, "type": "quantitative", "axis": null, "scale": {"domain": [67.62, 95.54], "range": [605, 0], "zero": false, "nice": false}},
"text": {"field": "currency"}
}
},
{
"data": {"values": [{}]},
"mark": {"type": "rule", "color": "#2a2e39", "strokeWidth": 1},
"encoding": {
"y": {"datum": 1.65, "type": "quantitative", "axis": null, "scale": {"domain": [-2.3, 1.65], "range": [684, 605], "zero": false, "nice": false}}
}
},
{
"data": {"values": [{}]},
"mark": {"type": "rule", "color": "#2a2e39", "strokeWidth": 1},
"encoding": {
"y": {"datum": -2.3, "type": "quantitative", "axis": null, "scale": {"domain": [-2.3, 1.65], "range": [684, 605], "zero": false, "nice": false}}
}
},
{
"data": {"name": "candles"},
"transform": [{"window": [{"op": "lag", "field": "m", "as": "pm"}], "sort": [{"field": "t", "order": "ascending"}]}],
"mark": {"type": "bar", "width": 6},
"encoding": {
"x": {"field": "t", "type": "temporal", "axis": null, "scale": {"type": "utc", "nice": false, "domain": [{"year": 2022, "month": 4, "date": 1, "hours": 2, "minutes": 32, "utc": true}, {"year": 2022, "month": 5, "date": 3, "hours": 2, "minutes": 21, "utc": true}]}},
"y": {"field": "m", "type": "quantitative", "scale": {"domain": [-2.3, 1.65], "range": [684, 605], "zero": false, "nice": false},
"axis": {"orient": "right", "title": null, "values": [0], "format": ".2f", "grid": true, "gridColor": "#252936", "domain": false, "ticks": false, "labelPadding": 13, "labelFontSize": 14, "labelColor": "#b2b5be", "labelAlign": "left"}},
"y2": {"datum": 0},
"color": {"condition": [
{"test": "datum.m >= 0 && (datum.pm == null || datum.m >= datum.pm)", "value": "#26a69a"},
{"test": "datum.m >= 0", "value": "#b2dfdb"},
{"test": "datum.pm != null && datum.m > datum.pm", "value": "#ffcdd2"}
], "value": "#ff5252"}
}
},
{
"data": {"name": "macdLines"},
"mark": {"type": "line", "strokeWidth": 1.5, "interpolate": "monotone"},
"encoding": {
"x": {"field": "t", "type": "temporal", "axis": null, "scale": {"type": "utc", "nice": false, "domain": [{"year": 2022, "month": 4, "date": 1, "hours": 2, "minutes": 32, "utc": true}, {"year": 2022, "month": 5, "date": 3, "hours": 2, "minutes": 21, "utc": true}]}},
"y": {"field": "v", "type": "quantitative", "axis": null, "scale": {"domain": [-2.3, 1.65], "range": [684, 605], "zero": false, "nice": false}},
"color": {"field": "s", "type": "nominal", "legend": null, "scale": {"domain": ["macd", "signal"], "range": ["#2962ff", "#ff6d00"]}}
}
},
{
"data": {"values": [{}]},
"mark": {"type": "text", "text": "MACD (12, 26, close, 9, EMA, EMA)", "fontSize": 15, "color": "#b2b5be", "align": "left", "baseline": "middle"},
"encoding": {
"x": {"datum": {"year": 2022, "month": 4, "date": 1, "hours": 6, "minutes": 51, "utc": true}, "type": "temporal", "axis": null, "scale": {"type": "utc", "nice": false, "domain": [{"year": 2022, "month": 4, "date": 1, "hours": 2, "minutes": 32, "utc": true}, {"year": 2022, "month": 5, "date": 3, "hours": 2, "minutes": 21, "utc": true}]}},
"y": {"datum": 0.485, "type": "quantitative", "axis": null, "scale": {"domain": [-2.3, 1.65], "range": [684, 605], "zero": false, "nice": false}}
}
},
{
"data": {"values": [{}]},
"mark": {"type": "rect", "fill": "#7e57c2", "fillOpacity": 0.1},
"encoding": {
"y": {"datum": 70, "type": "quantitative", "axis": null, "scale": {"domain": [22.41, 77.06], "range": [756, 684], "zero": false, "nice": false}},
"y2": {"datum": 30}
}
},
{
"data": {"name": "rsiLevels"},
"mark": {"type": "rule", "color": "#787b86", "strokeDash": [5, 4], "strokeOpacity": 0.7, "strokeWidth": 1},
"encoding": {
"y": {"field": "lv", "type": "quantitative", "axis": null, "scale": {"domain": [22.41, 77.06], "range": [756, 684], "zero": false, "nice": false}}
}
},
{
"data": {"name": "rsi"},
"mark": {"type": "line", "strokeWidth": 1.3, "interpolate": "monotone"},
"encoding": {
"x": {"field": "t", "type": "temporal", "axis": null, "scale": {"type": "utc", "nice": false, "domain": [{"year": 2022, "month": 4, "date": 1, "hours": 2, "minutes": 32, "utc": true}, {"year": 2022, "month": 5, "date": 3, "hours": 2, "minutes": 21, "utc": true}]}},
"y": {"field": "v", "type": "quantitative", "scale": {"domain": [22.41, 77.06], "range": [756, 684], "zero": false, "nice": false},
"axis": {"orient": "right", "title": null, "values": [40], "format": ".2f", "grid": false, "domain": false, "ticks": false, "labelPadding": 13, "labelFontSize": 14, "labelColor": "#b2b5be", "labelAlign": "left"}},
"color": {"field": "s", "type": "nominal", "legend": null, "scale": {"domain": ["rsi", "ma"], "range": ["#7e57c2", "#e5d44c"]}}
}
},
{
"data": {"values": [{}]},
"mark": {"type": "text", "text": "RSI (14, close, SMA, 14, 2)", "fontSize": 15, "color": "#b2b5be", "align": "left", "baseline": "middle"},
"encoding": {
"x": {"datum": {"year": 2022, "month": 4, "date": 1, "hours": 6, "minutes": 51, "utc": true}, "type": "temporal", "axis": null, "scale": {"type": "utc", "nice": false, "domain": [{"year": 2022, "month": 4, "date": 1, "hours": 2, "minutes": 32, "utc": true}, {"year": 2022, "month": 5, "date": 3, "hours": 2, "minutes": 21, "utc": true}]}},
"y": {"datum": 59.83, "type": "quantitative", "axis": null, "scale": {"domain": [22.41, 77.06], "range": [756, 684], "zero": false, "nice": false}}
}
}
]
}
